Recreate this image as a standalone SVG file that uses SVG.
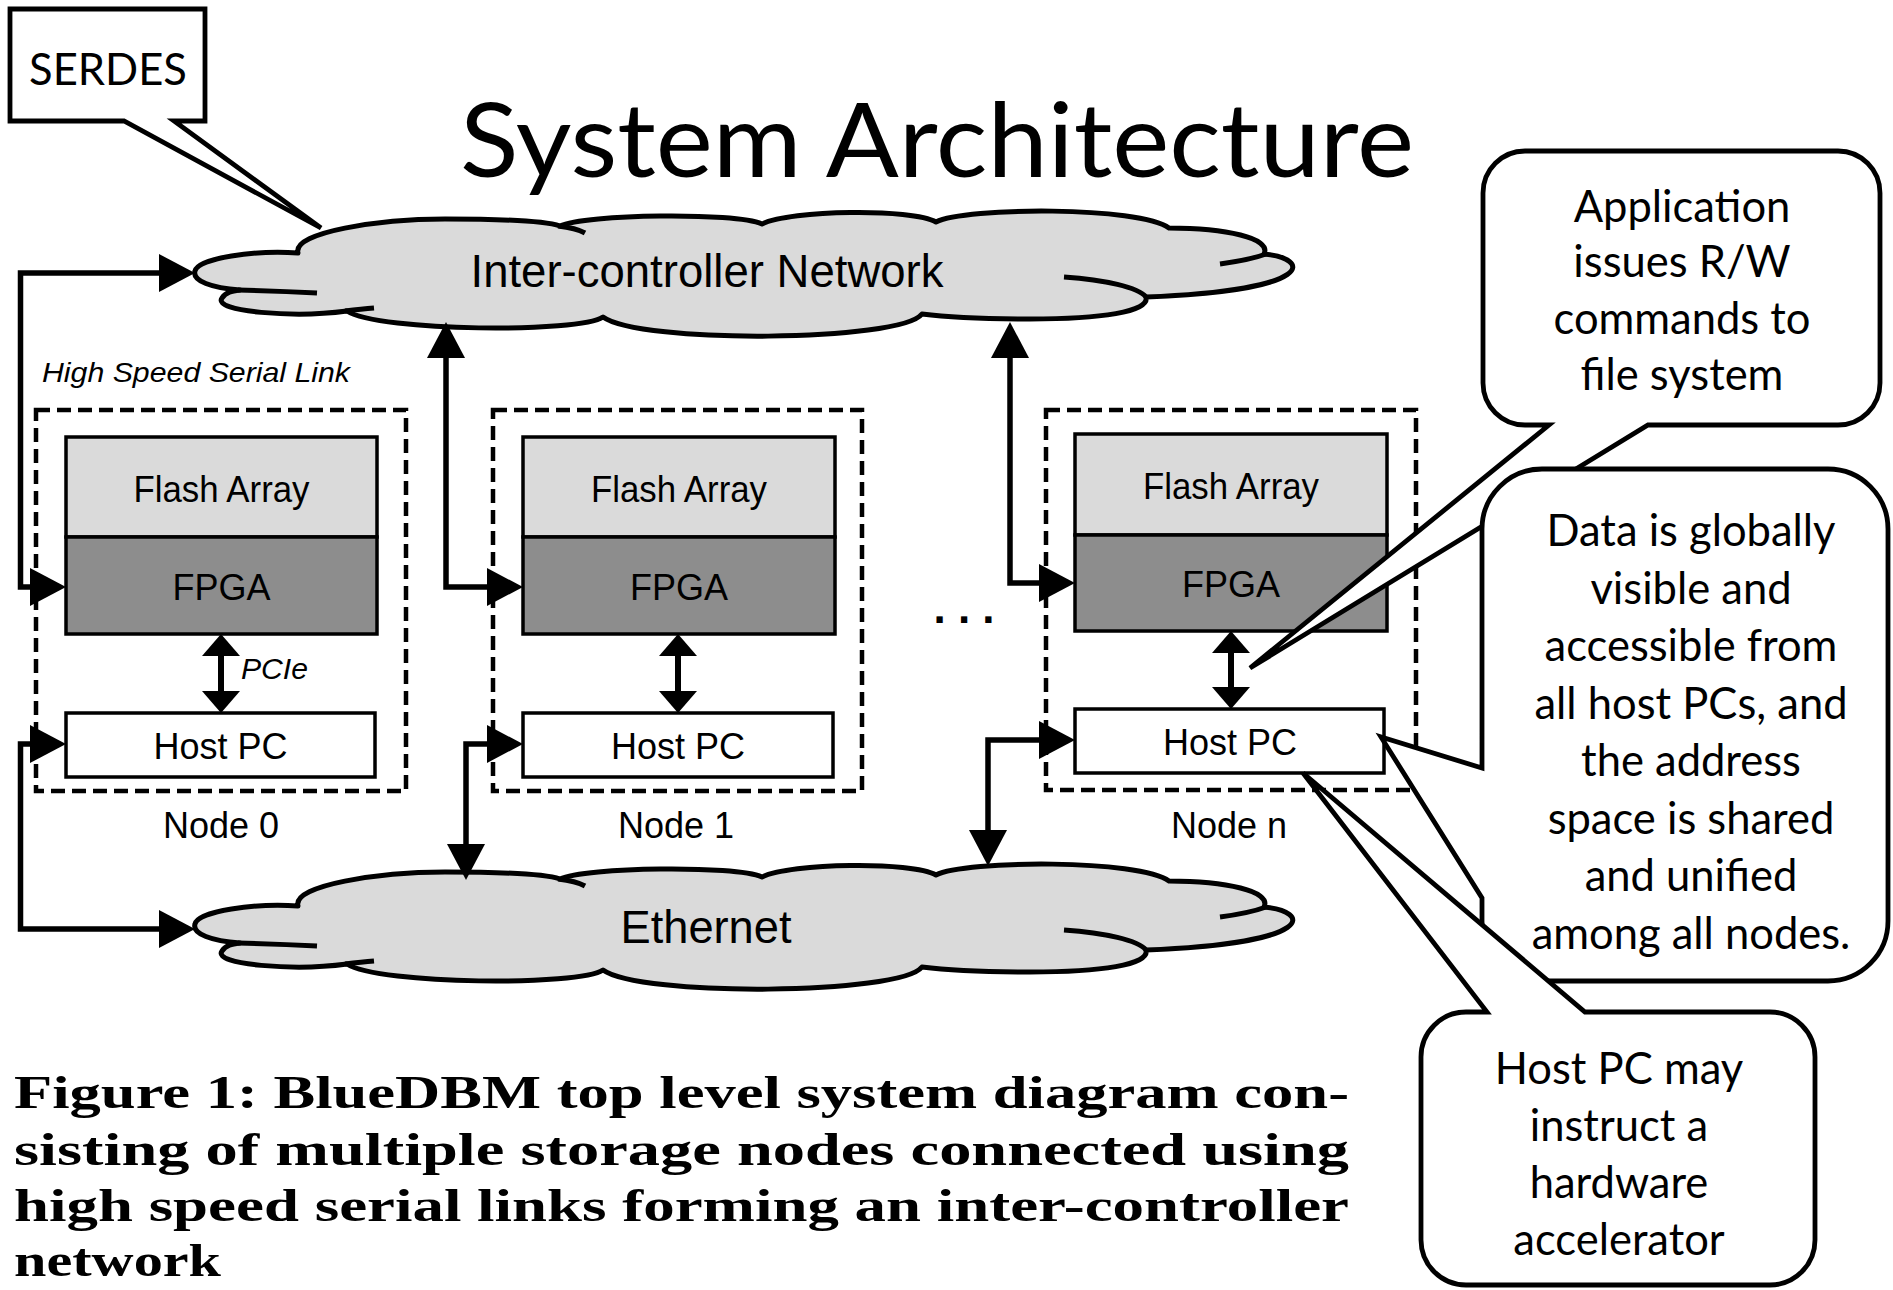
<svg xmlns="http://www.w3.org/2000/svg" xmlns:xlink="http://www.w3.org/1999/xlink" width="1893" height="1290" viewBox="0 0 1893 1290">
  <style>
    .sans { font-family: "Liberation Sans", Arial, sans-serif; fill: #000; }
    .callout-text { font-family: Lato, "Open Sans", sans-serif; font-size: 43.5px; fill: #000; text-anchor: middle; }
    .caption { font-family: "Liberation Serif", "Times New Roman", serif; font-weight: bold; font-size: 46px; fill: #000; }
    .dashed { fill: none; stroke: #000; stroke-width: 4.5; stroke-dasharray: 14 7; }
    .flash { fill: #dadada; stroke: #000; stroke-width: 3.5; }
    .fpga { fill: #8d8d8d; stroke: #000; stroke-width: 3.5; }
    .host { fill: #fff; stroke: #000; stroke-width: 3.5; }
    .box-label { font-family: "Liberation Sans", Arial, sans-serif; font-size: 36px; text-anchor: middle; fill: #000; }
    .link { fill: none; stroke: #000; stroke-width: 5.5; stroke-linejoin: miter; marker-start: url(#head); marker-end: url(#head); }
    .pcie { fill: none; stroke: #000; stroke-width: 6; marker-start: url(#head-small); marker-end: url(#head-small); }
    .bubble { fill: #fff; stroke: #000; stroke-width: 4.8; stroke-linejoin: miter; }
    .cloud-fill { fill: #dadada; stroke: #000; stroke-width: 5; stroke-linejoin: round; }
    .cloud-line { fill: none; stroke: #000; stroke-width: 5; stroke-linecap: butt; }
  </style>
  <defs>
    <marker id="head" markerUnits="userSpaceOnUse" markerWidth="36" markerHeight="38" viewBox="0 0 36 38" refX="26" refY="19" orient="auto-start-reverse">
      <path d="M0,0 L36,19 L0,38 Z" fill="#000"/>
    </marker>
    <marker id="head-small" markerUnits="userSpaceOnUse" markerWidth="22" markerHeight="38" viewBox="0 0 22 38" refX="14" refY="19" orient="auto-start-reverse">
      <path d="M0,0 L22,19 L0,38 Z" fill="#000"/>
    </marker>
    <!-- cloud outline shared by both networks -->
    <g id="cloud-shape">
      <path class="cloud-fill" d="M 195,271
        C 198,258 255,250 298,253
        C 292,232 380,219 445,219
        C 500,219 545,221 560,226
        C 585,214 735,212 762,224
        C 790,210 912,208 936,222
        C 965,207 1140,206 1169,228
        C 1225,228 1272,238 1264,254
        C 1310,258 1320,290 1146,297
        C 1150,312 1100,319 1030,319
        C 985,319 945,317 922,314
        C 900,342 640,344 603,317
        C 580,333 380,332 347,311
        C 295,318 212,312 222,298
        C 226,292 232,291 240,290
        C 212,288 192,281 195,271 Z"/>
      <path class="cloud-line" d="M 558,226 Q 576,228 585,233"/>
      <path class="cloud-line" d="M 1266,254 Q 1250,260 1220,264"/>
      <path class="cloud-line" d="M 1064,277 C 1105,280 1138,287 1146,297"/>
      <path class="cloud-line" d="M 345,311 Q 362,309 374,308"/>
      <path class="cloud-line" d="M 238,290 Q 280,291 317,293"/>
    </g>
  </defs>

  <rect width="1893" height="1290" fill="#fff"/>

  <!-- title -->
  <text x="460" y="177" font-family="Lato, 'Open Sans', sans-serif" font-size="103" textLength="954" lengthAdjust="spacingAndGlyphs">System Architecture</text>

  <!-- networks -->
  <g id="inter-controller-network">
    <use xlink:href="#cloud-shape"/>
    <text class="sans" x="707" y="287" font-size="46" text-anchor="middle" textLength="473" lengthAdjust="spacingAndGlyphs">Inter-controller Network</text>
  </g>
  <g id="ethernet">
    <use xlink:href="#cloud-shape" transform="translate(0,653)"/>
    <text class="sans" x="706" y="943" font-size="46" text-anchor="middle" textLength="171" lengthAdjust="spacingAndGlyphs">Ethernet</text>
  </g>

  <!-- storage nodes -->
  <g id="node-0">
    <rect class="dashed" x="36" y="410" width="370" height="381"/>
    <rect class="flash" x="66" y="437" width="311" height="100"/>
    <rect class="fpga" x="66" y="537" width="311" height="97"/>
    <rect class="host" x="66" y="713" width="309" height="64"/>
    <text class="box-label" x="221.5" y="502" font-size="35" textLength="176" lengthAdjust="spacingAndGlyphs">Flash Array</text>
    <text class="box-label" x="221.5" y="600">FPGA</text>
    <text class="box-label" x="220.5" y="759">Host PC</text>
    <text class="box-label" x="221" y="838" font-size="35">Node 0</text>
  </g>
  <g id="node-1">
    <rect class="dashed" x="493" y="410" width="369" height="381"/>
    <rect class="flash" x="523" y="437" width="312" height="100"/>
    <rect class="fpga" x="523" y="537" width="312" height="97"/>
    <rect class="host" x="523" y="713" width="310" height="64"/>
    <text class="box-label" x="679" y="502" font-size="35" textLength="176" lengthAdjust="spacingAndGlyphs">Flash Array</text>
    <text class="box-label" x="679" y="600">FPGA</text>
    <text class="box-label" x="678" y="759">Host PC</text>
    <text class="box-label" x="676" y="838" font-size="35">Node 1</text>
  </g>
  <text class="sans" x="964" y="623" font-size="44" font-weight="bold" text-anchor="middle">. . .</text>
  <g id="node-n">
    <rect class="dashed" x="1046" y="410" width="370" height="380"/>
    <rect class="flash" x="1075" y="434" width="312" height="101"/>
    <rect class="fpga" x="1075" y="535" width="312" height="96"/>
    <rect class="host" x="1075" y="709" width="309" height="64"/>
    <text class="box-label" x="1231" y="499" font-size="35" textLength="176" lengthAdjust="spacingAndGlyphs">Flash Array</text>
    <text class="box-label" x="1231" y="597">FPGA</text>
    <text class="box-label" x="1230" y="755">Host PC</text>
    <text class="box-label" x="1229" y="838" font-size="35">Node n</text>
  </g>

  <!-- links -->
  <g id="connectors">
    <text class="sans" x="42" y="382" font-size="28" font-style="italic" textLength="308" lengthAdjust="spacingAndGlyphs">High Speed Serial Link</text>
    <path class="link" d="M 185,273 H 20.5 V 587 H 56"/>
    <path class="link" d="M 56,744 H 20.5 V 929 H 185"/>
    <path class="link" d="M 446,332 V 587 H 513"/>
    <path class="link" d="M 513,744 H 466 V 870"/>
    <path class="link" d="M 1010,332 V 583 H 1065"/>
    <path class="link" d="M 1065,740 H 988 V 856"/>
    <path class="pcie" d="M 221,642 V 705"/>
    <path class="pcie" d="M 678,642 V 705"/>
    <path class="pcie" d="M 1231,639 V 701"/>
    <text class="sans" x="241" y="679" font-size="30" font-style="italic" textLength="67" lengthAdjust="spacingAndGlyphs">PCIe</text>
  </g>

  <!-- annotations -->
  <g id="callout-serdes">
    <path class="bubble" d="M 10,9 H 205 V 121 H 174 L 321,228 L 124,121 H 10 Z"/>
    <text class="callout-text" x="108" y="85" font-size="42">SERDES</text>
  </g>
  <g id="callout-application">
    <path class="bubble" d="M 1525,151 H 1838 A 42,42 0 0 1 1880,193 V 383 A 42,42 0 0 1 1838,425 H 1648 L 1250,668 L 1549,425 H 1525 A 42,42 0 0 1 1483,383 V 193 A 42,42 0 0 1 1525,151 Z"/>
    <text class="callout-text" x="1682" y="222">Application</text>
    <text class="callout-text" x="1682" y="277">issues R/W</text>
    <text class="callout-text" x="1682" y="334">commands to</text>
    <text class="callout-text" x="1682" y="390">file system</text>
  </g>
  <g id="callout-data">
    <path class="bubble" d="M 1542,469 H 1828 A 60,60 0 0 1 1888,529 V 921 A 60,60 0 0 1 1828,981 H 1542 A 60,60 0 0 1 1482,921 V 898 L 1381,737 L 1482,768 V 529 A 60,60 0 0 1 1542,469 Z"/>
    <text class="callout-text" x="1691" y="546">Data is globally</text>
    <text class="callout-text" x="1691" y="603.5">visible and</text>
    <text class="callout-text" x="1691" y="661">accessible from</text>
    <text class="callout-text" x="1691" y="718.5">all host PCs, and</text>
    <text class="callout-text" x="1691" y="776">the address</text>
    <text class="callout-text" x="1691" y="833.5">space is shared</text>
    <text class="callout-text" x="1691" y="891">and unified</text>
    <text class="callout-text" x="1691" y="948.5">among all nodes.</text>
  </g>
  <g id="callout-host">
    <path class="bubble" d="M 1466,1012 H 1487 L 1303,773 L 1585,1012 H 1770 A 45,45 0 0 1 1815,1057 V 1240 A 45,45 0 0 1 1770,1285 H 1466 A 45,45 0 0 1 1421,1240 V 1057 A 45,45 0 0 1 1466,1012 Z"/>
    <text class="callout-text" x="1619" y="1084">Host PC may</text>
    <text class="callout-text" x="1619" y="1141">instruct a</text>
    <text class="callout-text" x="1619" y="1198">hardware</text>
    <text class="callout-text" x="1619" y="1255">accelerator</text>
  </g>

  <!-- figure caption -->
  <g id="caption">
    <text class="caption" x="14" y="1108" textLength="1335" lengthAdjust="spacingAndGlyphs">Figure 1: BlueDBM top level system diagram con-</text>
    <text class="caption" x="14" y="1165" textLength="1335" lengthAdjust="spacingAndGlyphs">sisting of multiple storage nodes connected using</text>
    <text class="caption" x="14" y="1221" textLength="1335" lengthAdjust="spacingAndGlyphs">high speed serial links forming an inter-controller</text>
    <text class="caption" x="14" y="1276" textLength="207" lengthAdjust="spacingAndGlyphs">network</text>
  </g>
</svg>
